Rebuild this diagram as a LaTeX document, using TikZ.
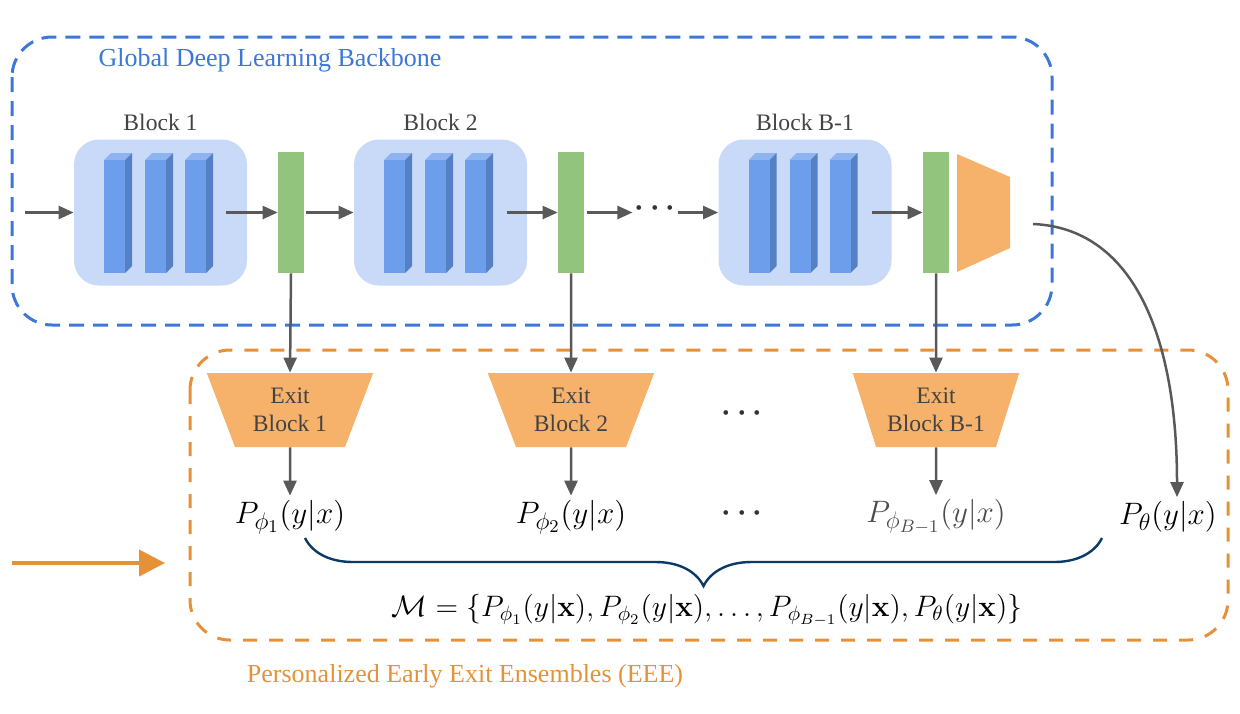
\documentclass[tikz,border=0pt]{standalone}
\usepackage{fix-cm}
\usepackage[no-math]{fontspec}
\setmainfont{Liberation Serif}
\usetikzlibrary{arrows.meta,shapes.geometric,decorations.pathreplacing,positioning}
\DeclareMathSizes{15.5}{15.5}{12}{9}

\definecolor{bbBlue}{HTML}{3C78D8}
\definecolor{eeeOrange}{HTML}{E69138}
\definecolor{blkFill}{HTML}{C9DAF8}
\definecolor{barFront}{HTML}{6D9EEB}
\definecolor{barSide}{HTML}{5580C4}
\definecolor{barTop}{HTML}{8DB3F0}
\definecolor{featGreen}{HTML}{93C47D}
\definecolor{exitFill}{HTML}{F6B26B}
\definecolor{arrGray}{HTML}{595959}
\definecolor{txtGray}{HTML}{434343}
\definecolor{braceNavy}{HTML}{0B3A66}

\tikzset{
  blockbg/.style={rectangle, fill=blkFill, rounded corners=12.5pt, minimum width=86.5pt, minimum height=73pt, inner sep=0pt},
  featmap/.style={rectangle, fill=featGreen, minimum width=13pt, minimum height=60.5pt, inner sep=0pt},
  exitblk/.style={trapezium, shape border rotate=180, trapezium angle=66.6, trapezium stretches=true,
    fill=exitFill, minimum width=83.5pt, minimum height=37pt, inner sep=0pt, align=center,
    text=txtGray, font=\fontsize{11.8}{14}\selectfont},
  flow/.style={draw=arrGray, line width=1.25pt, -{Triangle[length=7.5pt,width=6.5pt]}},
  backbone/.style={draw=bbBlue, line width=1.5pt, dash pattern=on 7.5pt off 4.5pt, rounded corners=20pt},
  eeebox/.style={draw=eeeOrange, line width=1.5pt, dash pattern=on 7pt off 6pt, rounded corners=20pt},
  blktxt/.style={text=txtGray, font=\fontsize{11.8}{14}\selectfont},
  plabel/.style={font=\fontsize{15.5}{18}\selectfont, inner sep=2pt},
  gapdots/.style={font=\fontsize{15}{15}\selectfont\boldmath, inner sep=1pt, text=black!80}
}

\begin{document}
\begin{tikzpicture}[x=0.5pt,y=0.5pt,yscale=-1,xscale=1]
\useasboundingbox (0,0) rectangle (1240,713);

% dashed frames
\draw[backbone] (12,37) rectangle (1052,325);
\draw[eeebox] (190,350) rectangle (1228,640);
\node[text=bbBlue, font=\fontsize{13}{15}\selectfont] (bbtitle) at (270,60) {Global Deep Learning Backbone};
\node[text=eeeOrange, font=\fontsize{13}{15}\selectfont] (eeetitle) at (465,676) {Personalized Early Exit Ensembles (EEE)};

% backbone blocks
\foreach \bx/\nm/\lbl in {160.5/blk1/Block 1, 440.5/blk2/Block 2, 805/blk3/Block B-1} {
  \node[blockbg] (\nm) at (\bx,212.5) {};
  \node[blktxt] (\nm lbl) at (\bx,122) {\lbl};
  % three conv bars
  \foreach \dx in {-56.5,-15.5,24.5} {
    \fill[barTop] (\bx+\dx,160) -- (\bx+\dx+7,153) -- (\bx+\dx+28,153) -- (\bx+\dx+21,160) -- cycle;
    \fill[barSide] (\bx+\dx+21,160) -- (\bx+\dx+28,153) -- (\bx+\dx+28,266) -- (\bx+\dx+21,273) -- cycle;
    \fill[barFront] (\bx+\dx,160) rectangle (\bx+\dx+21,273);
  }
}

% feature maps
\node[featmap] (feat1) at (291,212.5) {};
\node[featmap] (feat2) at (571,212.5) {};
\node[featmap] (feat3) at (936,212.5) {};

% classifier head
\fill[exitFill] (957,154) -- (1010,177) -- (1010,248) -- (957,272) -- cycle;
\coordinate (headout) at (1033,224);

% main flow
\coordinate (in) at (25,212.5);
\coordinate (out1) at (226,212.5);
\coordinate (out2) at (507,212.5);
\coordinate (out3) at (872,212.5);
\node[gapdots] (dots) at (655,208) {$\cdots$};
\draw[flow] (in) -- (blk1.west);
\draw[flow] (out1) -- (feat1.west);
\draw[flow] (feat1.east) ++(2,0) -- (blk2.west);
\draw[flow] (out2) -- (feat2.west);
\draw[flow] (feat2.east) ++(3,0) -- (dots.west |- feat2);
\draw[flow] (dots.east |- blk3) -- (blk3.west);
\draw[flow] (out3) -- (feat3.west);

% exit blocks
\node[exitblk] (exit1) at (290,410) {Exit\\Block 1};
\node[exitblk] (exit2) at (571,410) {Exit\\Block 2};
\node[exitblk] (exit3) at (936,410) {Exit\\Block B-1};
\node[gapdots] (xdots) at (742,413) {$\cdots$};

\draw[flow] (feat1.south) -- (exit1.north);
\draw[flow] (feat2.south) -- (exit2.north);
\draw[flow] (feat3.south) -- (exit3.north);

% exit predictions
\node[plabel] (p1) at (290,517) {$P_{\phi_1}(y|x)$};
\node[plabel] (p2) at (571,517) {$P_{\phi_2}(y|x)$};
\node[plabel, text=black!70] (p3) at (936,517) {$P_{\phi_{B-1}}(y|x)$};
\node[gapdots] (pdots) at (742,513) {$\cdots$};
\node[plabel] (pT) at (1168,517) {$P_{\theta}(y|x)$};

\draw[flow] (exit1.south) -- (p1.north);
\draw[flow] (exit2.south) -- (p2.north);
\draw[flow] (exit3.south) -- (p3.north);
\draw[flow] (headout) .. controls (1130,228) and (1177,330) .. (pT.north -| 1177,0);

% ensemble
\coordinate (brL) at (305,538);
\coordinate (brR) at (1102,538);
\draw[braceNavy, line width=1.2pt, decorate, decoration={brace, mirror, amplitude=24pt}] (brL) -- (brR);
\node[font=\fontsize{14.8}{17}\selectfont] (ens) at (707,610)
  {$\mathcal{M} = \{P_{\phi_1}(y|\mathbf{x}), P_{\phi_2}(y|\mathbf{x}), \ldots, P_{\phi_{B-1}}(y|\mathbf{x}), P_{\theta}(y|\mathbf{x})\}$};

% input to EEE
\coordinate (eeein) at (12,563);
\coordinate (eeetip) at (165,563);
\draw[draw=eeeOrange, line width=2pt, -{Triangle[length=13pt,width=13pt]}] (eeein) -- (eeetip);

\end{tikzpicture}
\end{document}
